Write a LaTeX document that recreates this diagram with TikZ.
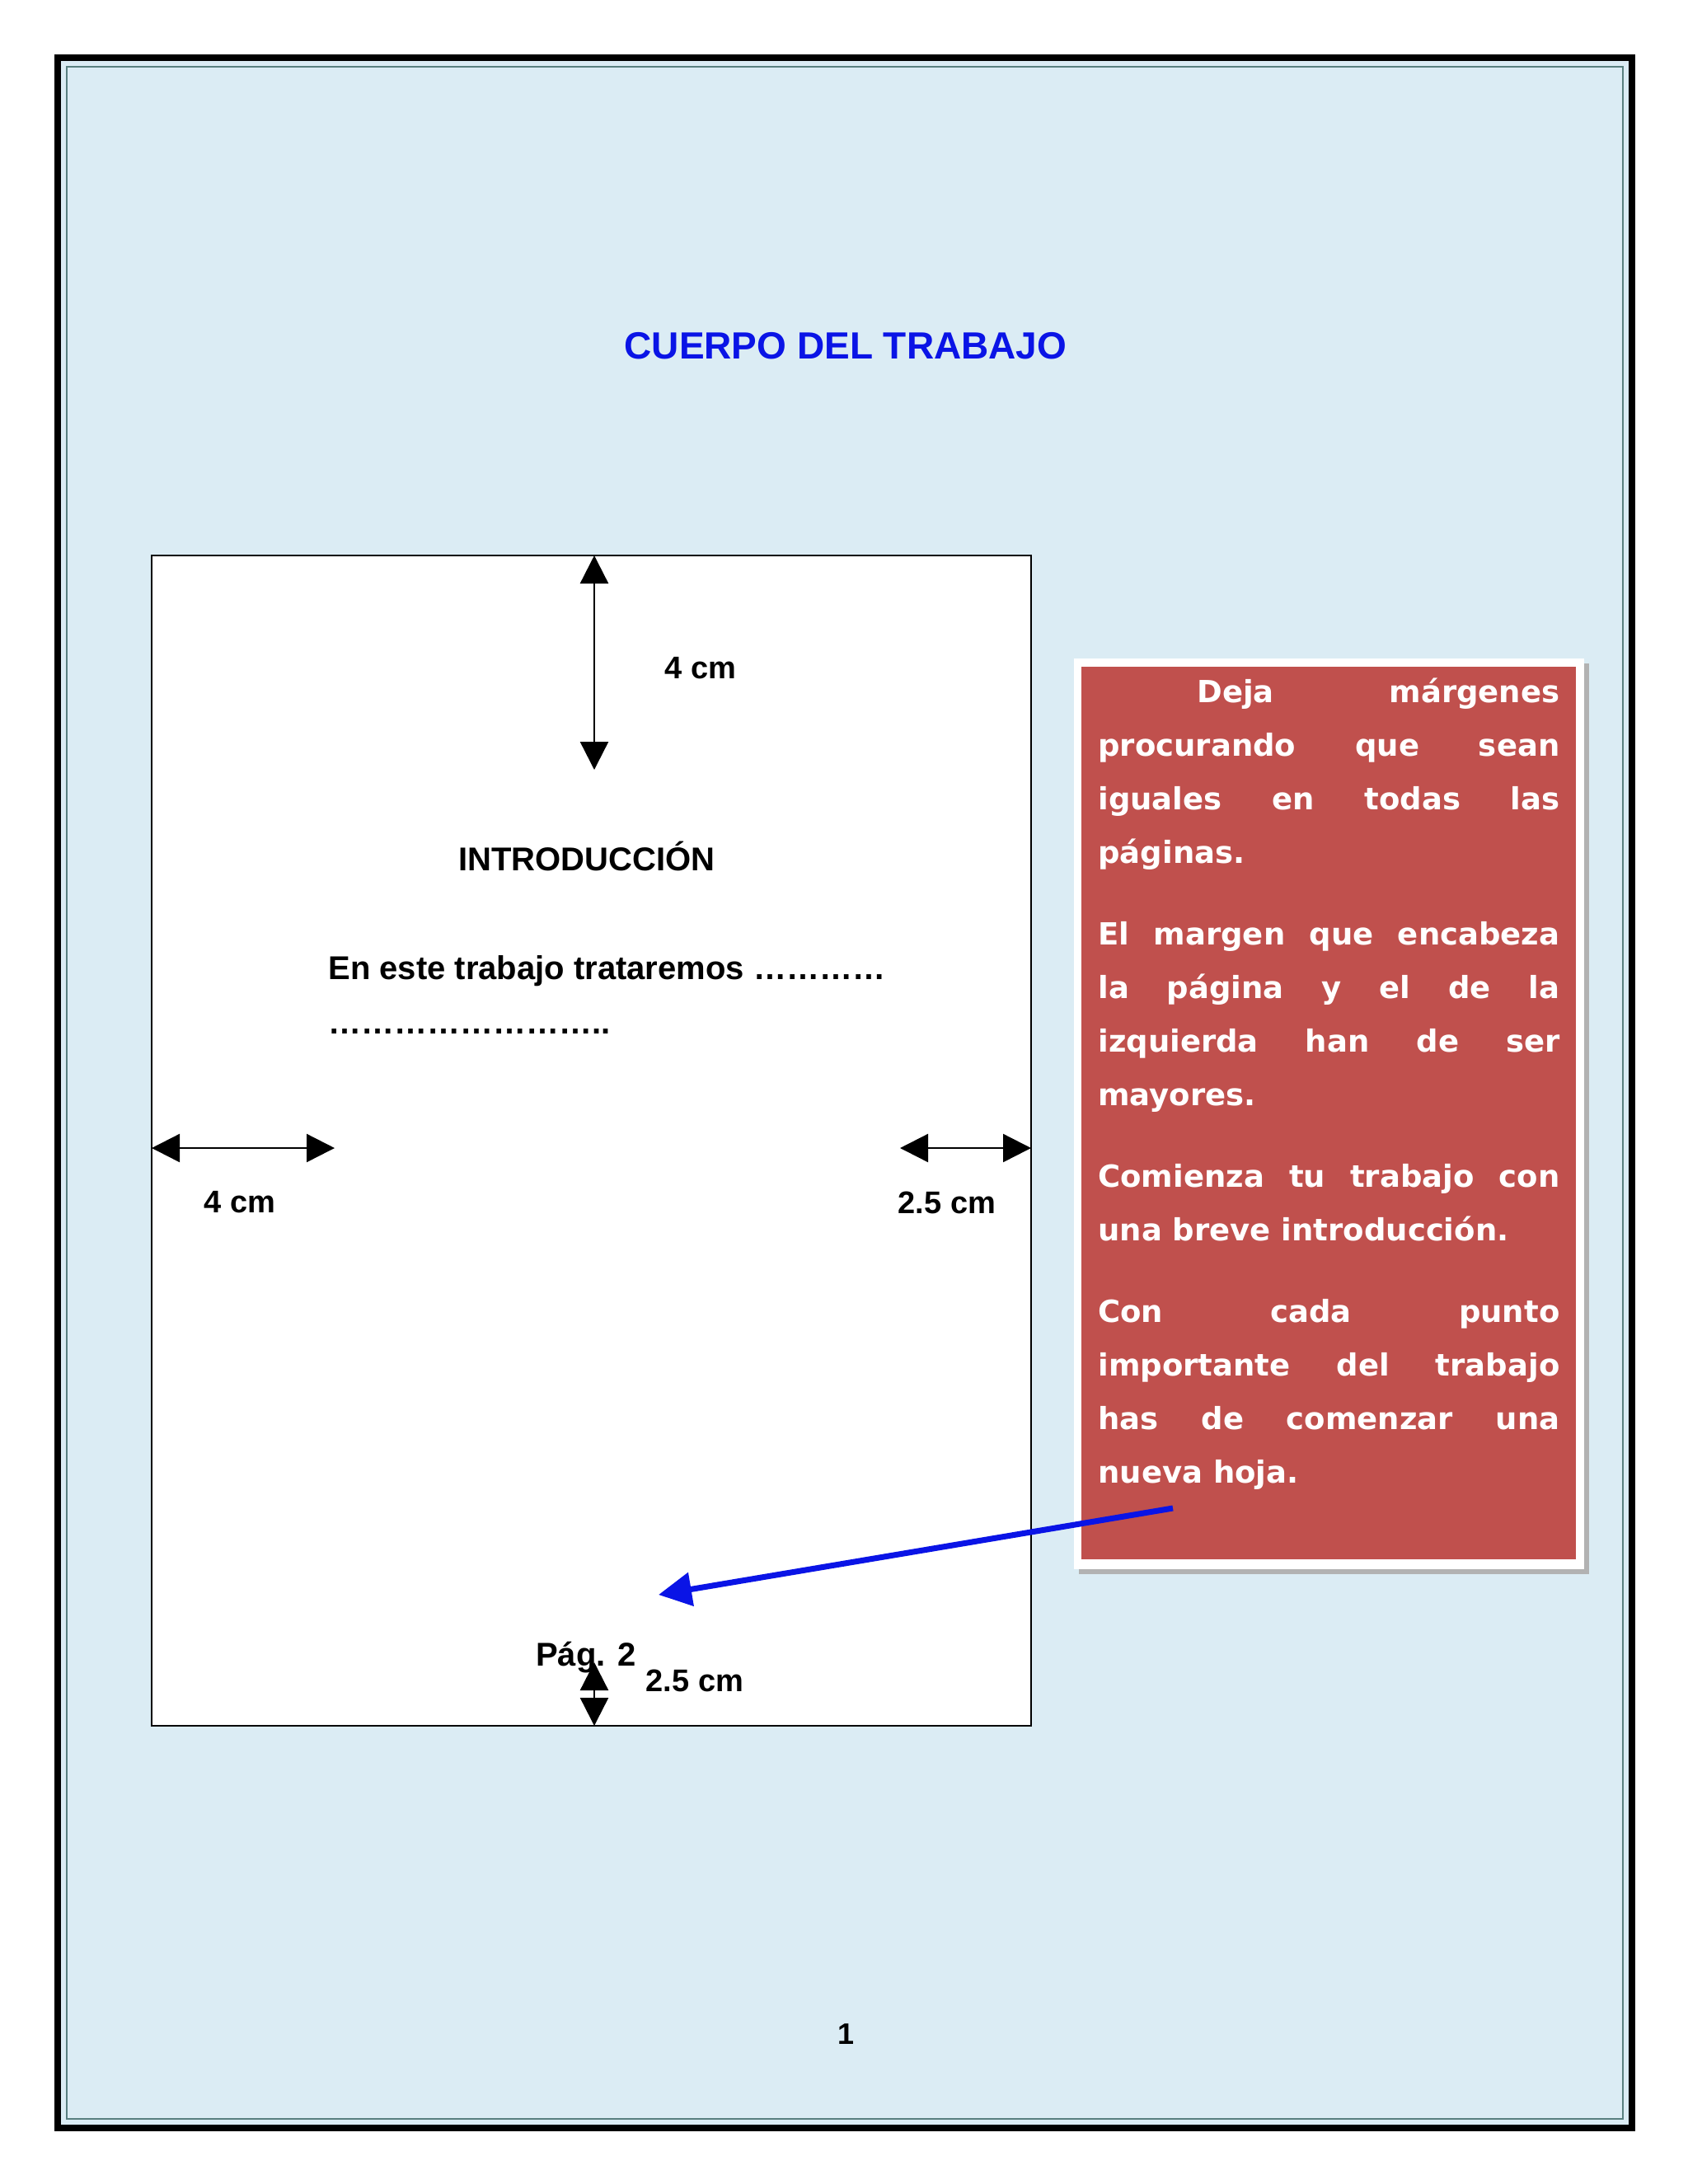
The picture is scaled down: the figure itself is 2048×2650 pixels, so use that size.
\documentclass[tikz,border=0pt]{standalone}
\usepackage{fontspec}
\setmainfont{Liberation Sans}
\newfontfamily\boxfont{DejaVu Sans}
\usetikzlibrary{arrows.meta}
\definecolor{bgblue}{HTML}{DBECF4}
\definecolor{boxred}{HTML}{C0504D}
\definecolor{titleblue}{HTML}{0A14E6}
\tikzset{
  dimarrow/.style={line width=1.2pt,{Triangle[width=17pt,length=17pt]}-{Triangle[width=17pt,length=17pt]}},
  lbl/.style={font=\fontsize{19}{22}\selectfont\bfseries,inner sep=0pt},
  bodytxt/.style={font=\fontsize{20}{24}\selectfont\bfseries,inner sep=0pt},
}
\begin{document}
\begin{tikzpicture}[x=0.5pt,y=-0.5pt]
\useasboundingbox (0,0) rectangle (2048,2650);
\fill[white] (0,0) rectangle (2048,2650);
% frame
\draw[line width=4pt,fill=bgblue] (70,70) rectangle (1980,2582);
\draw[line width=0.6pt,draw=gray!70!teal] (81,81) rectangle (1969,2571);
% title
\node[font=\fontsize{23}{28}\selectfont\bfseries,text=titleblue,inner sep=0pt] (title) at (1026,420) {CUERPO DEL TRABAJO};
% page
\draw[line width=1pt,fill=white] (184,674) rectangle (1251,2094);
\coordinate (tA) at (721,674); \coordinate (tB) at (721,934);
\draw[dimarrow] (tA) -- (tB);
\node[lbl] (l1) at (850,811) {4 cm};
\node[bodytxt] (intro) at (712,1039) {INTRODUCCIÓN};
\node[bodytxt,anchor=west] (t1) at (398,1178) {En este trabajo trataremos …………};
\node[bodytxt,anchor=west] (t2) at (398,1252) {……………………..};
\coordinate (lA) at (184,1393); \coordinate (lB) at (406,1393);
\draw[dimarrow] (lA) -- (lB);
\node[lbl] (l2) at (291,1459) {4 cm};
\coordinate (rA) at (1092,1393); \coordinate (rB) at (1251,1393);
\draw[dimarrow] (rA) -- (rB);
\node[lbl] (l3) at (1149,1459) {2.5 cm};
\node[bodytxt] (pag) at (711,2011) {Pág. 2};
\coordinate (bA) at (721,2017); \coordinate (bM) at (721,2057); \coordinate (bB) at (721,2094);
\draw[line width=1.2pt,-{Triangle[width=17pt,length=17pt]}] (bM) -- (bA);
\draw[line width=1.2pt,-{Triangle[width=17pt,length=17pt]}] (bM) -- (bB);
\node[lbl] (l4) at (843,2039) {2.5 cm};
% red box
\fill[gray!60] (1309,805) rectangle (1928,1910);
\fill[white] (1303,799) rectangle (1922,1904);
\fill[boxred] (1312,809) rectangle (1912,1892);
\node[anchor=north west,inner sep=0pt,text=white,font=\boxfont\fontsize{18.5}{32.5}\selectfont\bfseries,text width=280pt,align=justify] (box) at (1332,822) {%
\hspace*{60pt}Deja márgenes\linebreak procurando que sean\linebreak iguales en todas las\linebreak páginas.\par\vspace{17pt}
El margen que encabeza\linebreak la página y el de la\linebreak izquierda han de ser\linebreak mayores.\par\vspace{17pt}
Comienza tu trabajo con\linebreak una breve introducción.\par\vspace{17pt}
Con cada punto\linebreak importante del trabajo\linebreak has de comenzar una\linebreak nueva hoja.};
\coordinate (aS) at (1423,1830); \coordinate (aE) at (799,1935);
\draw[titleblue,line width=3.5pt,-{Triangle[width=20pt,length=20pt]}] (aS) -- (aE);
\node[font=\fontsize{18}{20}\selectfont\bfseries,inner sep=0pt] (pnum) at (1026,2468) {1};
\end{tikzpicture}
\end{document}
